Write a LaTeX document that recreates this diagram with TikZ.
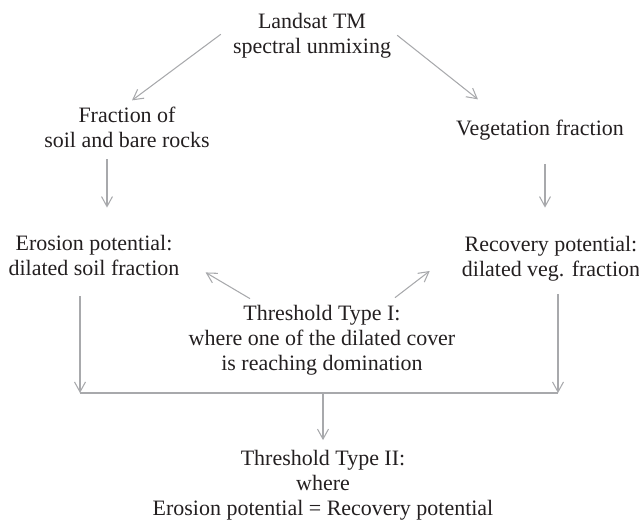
\documentclass[tikz,border=0pt]{standalone}
\usepackage{fontspec}
\setmainfont{Liberation Serif}
\usetikzlibrary{arrows.meta}

\definecolor{textgray}{RGB}{35,31,32}
\definecolor{arrowgray}{RGB}{168,169,172}

\begin{document}
\begin{tikzpicture}[x=0.2mm, y=-0.2mm,
    every node/.style={align=center, anchor=base, text=textgray,
      font=\fontsize{12.5}{14.2}\selectfont},
    arr/.style={draw=arrowgray, line width=0.6pt,
      -{Straight Barb[length=2mm,width=2.2mm]}},
    bar/.style={draw=arrowgray, line width=0.6pt}]
    \useasboundingbox (0,0) rectangle (639,521);

    % Nodes (placed by the baseline of their last line)
    \node (src) at (312,53) {Landsat TM\\spectral unmixing};
    \node (soil) at (127,147) {Fraction of\\soil and bare rocks};
    \node (veg) at (540,135) {Vegetation fraction};
    \node (ero) at (94,275) {Erosion potential:\\dilated soil fraction};
    \node (rec) at (551,276) {Recovery potential:\\dilated veg. fraction};
    \node (thr1) at (322,370) {Threshold Type I:\\where one of the dilated cover\\is reaching domination};
    \node (thr2) at (323,515) {Threshold Type II:\\where\\Erosion potential = Recovery potential};

    % Bar joining the two potentials
    \coordinate (jl) at (80,393);
    \coordinate (jm) at (323,393);
    \coordinate (jr) at (558,393);

    % Arrows
    \draw[arr] ([shift={(-6,-1)}]src.west) -- ([xshift=1mm]soil.north);
    \draw[arr] (src.east) -- ([shift={(28,-14)}]veg.north west);
    \draw[arr] ([shift={(-20,6)}]soil.south) -- ([shift={(13,-21)}]ero.north);
    \draw[arr] ([shift={(5,18)}]veg.south) -- ([shift={(-6,-22)}]rec.north);
    \draw[arr] ([shift={(-72,0)}]thr1.north) -- ([shift={(20,-9)}]ero.south east);
    \draw[arr] ([shift={(73,-1)}]thr1.north) -- ([shift={(-26,-16)}]rec.south west);
    \draw[arr] ([shift={(-14,15)}]ero.south) -- (jl);
    \draw[arr] ([shift={(7,7)}]rec.south) -- (jr);
    \draw[bar] (jl) -- (jr);
    \draw[arr, shorten >=0.7mm] (jm) -- (thr2.north);
\end{tikzpicture}
\end{document}
